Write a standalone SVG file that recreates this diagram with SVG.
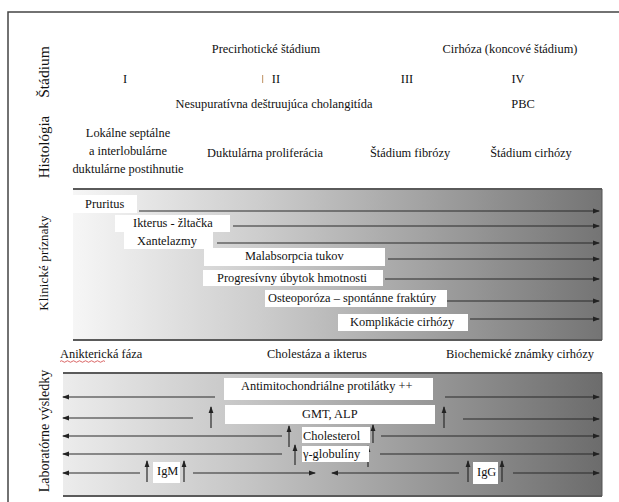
<svg xmlns="http://www.w3.org/2000/svg" width="619" height="502" viewBox="0 0 619 502">
<defs>
<style>
text{font-family:'Liberation Serif','Tinos','Times New Roman','DejaVu Serif',serif;font-size:12.4px;fill:#111}
.c{text-anchor:middle}
.lab{fill:#fff}
.arr{stroke:#2a2a2a;stroke-width:1.2;fill:none;marker-end:url(#ah)}
.edge{stroke:#5a5a5a;stroke-width:2;fill:none}
.side{stroke:#555;stroke-width:1;fill:none}
</style>
<linearGradient id="g1" x1="0" y1="0" x2="1" y2="0">
<stop offset="0" stop-color="#f6f6f6"/>
<stop offset="0.35" stop-color="#cdcdcd"/>
<stop offset="1" stop-color="#747474"/>
</linearGradient>
<linearGradient id="g2" x1="0" y1="0" x2="1" y2="0">
<stop offset="0" stop-color="#ececec"/>
<stop offset="0.35" stop-color="#c4c4c4"/>
<stop offset="1" stop-color="#6c6c6c"/>
</linearGradient>
<marker id="ah" markerWidth="7" markerHeight="6" refX="6" refY="3" orient="auto" markerUnits="userSpaceOnUse"><path d="M0,0.6 L7,3 L0,5.4 z" fill="#222"/></marker>
</defs>
<rect x="0" y="0" width="619" height="502" fill="#fff"/>
<rect id="frame" x="8" y="12" width="620" height="500" fill="none" stroke="#444" stroke-width="1.5"/>

<g id="row-labels">
<text class="c" transform="translate(49,72) rotate(-90)" style="font-size:15.5px">Štádium</text>
<text class="c" transform="translate(49,147) rotate(-90)" style="font-size:15px">Histológia</text>
<text class="c" transform="translate(48,263) rotate(-90)" style="font-size:12.8px" letter-spacing="0.2">Klinické príznaky</text>
<text class="c" transform="translate(48.5,431) rotate(-90)" style="font-size:14px">Laboratórne výsledky</text>
</g>

<g id="stage">
<text class="c" x="266" y="53">Precirhotické štádium</text>
<text class="c" x="510" y="53">Cirhóza (koncové štádium)</text>
<text class="c" x="125" y="83">I</text>
<rect x="262" y="75" width="1.2" height="8" fill="#c9a27a"/>
<text class="c" x="276" y="83">II</text>
<text class="c" x="407" y="83">III</text>
<text class="c" x="518" y="83">IV</text>
<text class="c" x="274" y="108">Nesupuratívna deštruujúca cholangitída</text>
<text class="c" x="523" y="108">PBC</text>
</g>

<g id="histology">
<text class="c" x="128" y="137">Lokálne septálne</text>
<text class="c" x="128" y="155">a interlobulárne</text>
<text class="c" x="128" y="173">duktulárne postihnutie</text>
<text class="c" x="265" y="157">Duktulárna proliferácia</text>
<text class="c" x="410" y="157">Štádium fibrózy</text>
<text class="c" x="531" y="157">Štádium cirhózy</text>
</g>

<g id="clinical-box">
<rect x="73" y="189" width="529" height="151" fill="url(#g1)"/>
<line class="edge" x1="73" y1="189" x2="602" y2="189"/>
<line class="edge" x1="73" y1="340" x2="602" y2="340"/>
<line class="side" x1="602" y1="189" x2="602" y2="340"/>
</g>

<g id="phases">
<text x="60" y="358">Anikterická fáza</text>
<path d="M60,361.5 q1.5,-1.5 3,0 t3,0 t3,0 t3,0 t3,0 t3,0 t3,0 t3,0 t3,0 t3,0 t3,0 t3,0 t3,0 t3,0 t3,0" fill="none" stroke="#d04040" stroke-width="0.8"/>
<text class="c" x="317" y="358">Cholestáza a ikterus</text>
<text class="c" x="520" y="358">Biochemické známky cirhózy</text>
</g>

<g id="lab-box">
<rect x="63" y="373" width="539" height="123" fill="url(#g2)"/>
<line class="edge" x1="63" y1="373" x2="602" y2="373"/>
<line class="edge" x1="63" y1="496" x2="602" y2="496"/>
<line class="side" x1="602" y1="373" x2="602" y2="496"/>
</g>

<g id="connectors">
<line class="arr" x1="139" y1="211" x2="599" y2="211"/>
<line class="arr" x1="233" y1="226" x2="599" y2="226"/>
<line class="arr" x1="217" y1="243" x2="599" y2="243"/>
<line class="arr" x1="388" y1="259" x2="599" y2="259"/>
<line class="arr" x1="385" y1="279" x2="599" y2="279"/>
<line class="arr" x1="447" y1="301" x2="599" y2="301"/>
<line class="arr" x1="470" y1="319" x2="599" y2="319"/>

<line class="arr" x1="215" y1="397" x2="63" y2="397"/>
<line class="arr" x1="445" y1="397" x2="599" y2="397"/>
<line class="arr" x1="193" y1="418" x2="63" y2="418"/>
<line class="arr" x1="211" y1="428" x2="211" y2="407"/>
<line class="arr" x1="444" y1="428" x2="444" y2="407"/>
<line class="arr" x1="463" y1="419" x2="599" y2="419"/>
<line class="arr" x1="282" y1="436" x2="63" y2="436"/>
<line class="arr" x1="289" y1="447" x2="289" y2="426"/>
<line class="arr" x1="373" y1="443" x2="373" y2="425"/>
<line class="arr" x1="381" y1="436" x2="599" y2="436"/>
<line class="arr" x1="282" y1="454" x2="63" y2="454"/>
<line class="arr" x1="295" y1="465" x2="295" y2="445"/>
<line class="arr" x1="368" y1="467" x2="368" y2="446"/>
<line class="arr" x1="380" y1="454" x2="599" y2="454"/>
<line class="arr" x1="140" y1="473" x2="63" y2="473"/>
<line class="arr" x1="147" y1="482" x2="147" y2="461"/>
<line class="arr" x1="184" y1="482" x2="184" y2="461"/>
<line class="arr" x1="193" y1="473" x2="315" y2="473"/>
<line class="arr" x1="459" y1="473" x2="332" y2="473"/>
<line class="arr" x1="468" y1="482" x2="468" y2="461"/>
<line class="arr" x1="502" y1="482" x2="502" y2="461"/>
<line class="arr" x1="513" y1="473" x2="599" y2="473"/>
</g>

<g id="pruritus"><rect class="lab" x="73" y="195" width="64" height="18"/><text x="85" y="208">Pruritus</text></g>
<g id="ikterus"><rect class="lab" x="115" y="215" width="115" height="17"/><text x="133" y="227">Ikterus - žltačka</text></g>
<g id="xantelazmy"><rect class="lab" x="124" y="232" width="89" height="17"/><text x="137" y="245">Xantelazmy</text></g>
<g id="malabsorpcia"><rect class="lab" x="204" y="248" width="181" height="18"/><text x="245" y="260">Malabsorpcia tukov</text></g>
<g id="progresivny"><rect class="lab" x="203" y="270" width="180" height="16"/><text x="217" y="282">Progresívny úbytok hmotnosti</text></g>
<g id="osteoporoza"><rect class="lab" x="265" y="290" width="182" height="17"/><text x="268" y="302">Osteoporóza – spontánne fraktúry</text></g>
<g id="komplikacie"><rect class="lab" x="338" y="314" width="130" height="17"/><text x="350" y="326">Komplikácie cirhózy</text></g>

<g id="antimito"><rect class="lab" x="224" y="378" width="209" height="22"/><text x="241" y="390">Antimitochondriálne protilátky ++</text></g>
<g id="gmt"><rect class="lab" x="225" y="405" width="210" height="19"/><text x="302" y="418">GMT, ALP</text></g>
<g id="cholesterol"><rect class="lab" x="302" y="427" width="68" height="16"/><text x="303" y="440">Cholesterol</text></g>
<g id="globuliny"><rect class="lab" x="302" y="446" width="67" height="16"/><text x="303" y="458">γ-globulíny</text></g>
<g id="igm"><rect class="lab" x="153" y="462" width="27" height="21"/><text x="157" y="475">IgM</text></g>
<g id="igg"><rect class="lab" x="473" y="462" width="25" height="22"/><text x="477" y="476">IgG</text></g>
</svg>
